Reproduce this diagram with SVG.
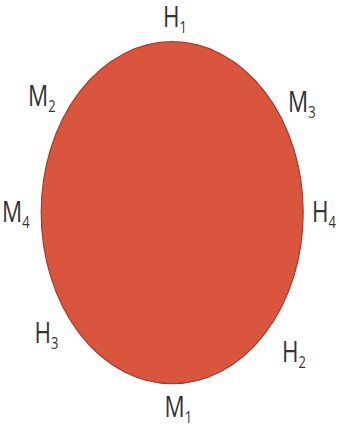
<svg xmlns="http://www.w3.org/2000/svg" width="339" height="429" viewBox="0 0 339 429">
<style>
.lbl{font-family:"Open Sans","Liberation Sans",sans-serif;font-size:29.5px;fill:#333333}
.sub{font-size:17px}
</style>
<rect width="339" height="429" fill="#ffffff"/>
<g id="circle">
<ellipse cx="172.2" cy="212.7" rx="131" ry="171" fill="#D9553D" stroke="#A63C2A" stroke-width="1.2"/>
</g>
<g id="H1" transform="translate(163,27) scale(0.76,1)"><text class="lbl">H<tspan class="sub" dy="6">1</tspan></text></g>
<g id="M2" transform="translate(28,106) scale(0.76,1)"><text class="lbl">M<tspan class="sub" dy="6">2</tspan></text></g>
<g id="M3" transform="translate(288,111.5) scale(0.76,1)"><text class="lbl">M<tspan class="sub" dy="6">3</tspan></text></g>
<g id="M4" transform="translate(2,221.5) scale(0.76,1)"><text class="lbl">M<tspan class="sub" dy="6">4</tspan></text></g>
<g id="H4" transform="translate(312,222) scale(0.76,1)"><text class="lbl">H<tspan class="sub" dy="6">4</tspan></text></g>
<g id="H3" transform="translate(34.5,343) scale(0.76,1)"><text class="lbl">H<tspan class="sub" dy="6">3</tspan></text></g>
<g id="H2" transform="translate(282,361.5) scale(0.76,1)"><text class="lbl">H<tspan class="sub" dy="6">2</tspan></text></g>
<g id="M1" transform="translate(164.5,416.5) scale(0.76,1)"><text class="lbl">M<tspan class="sub" dy="6">1</tspan></text></g>
</svg>
